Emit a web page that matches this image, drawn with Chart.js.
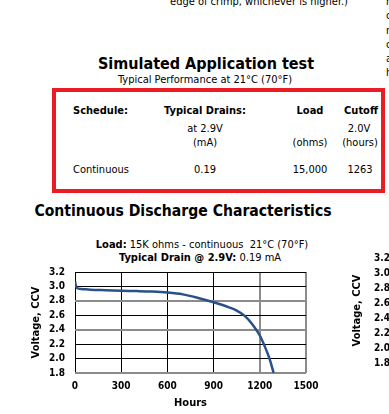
<!DOCTYPE html>
<html>
<head>
<meta charset="utf-8">
<script src="https://cdn.jsdelivr.net/npm/chart.js@4"></script>
<style>
html, body { margin: 0; padding: 0; background: #fff; }
#page { position: relative; width: 389px; height: 414px; overflow: hidden; background: #fff;
  font-family: "DejaVu Sans Condensed", "DejaVu Sans", sans-serif; color: #000; }
.t { position: absolute; white-space: nowrap; line-height: 1; transform: translate(-50%, -50%); }
.l { transform: translate(0, -50%); }
.s11 { font-size: 11px; }
.bold { font-weight: bold; }
#box { position: absolute; left: 52px; top: 88px; width: 325px; height: 97px; border: 4px solid #ec1c24; }
#side { position: absolute; left: 386px; top: -5px; font-size: 11px; line-height: 14.3px; }
canvas { position: absolute; top: 0; }
</style>
</head>
<body>
<div id="page">
  <div class="t s11" style="left:259px; top:1px;">edge of crimp, whichever is higher.)</div>
  <div id="side">r<br>c<br>n<br>c<br>a<br>h</div>

  <div class="t bold" style="left:206px; top:64px; font-size:16px;">Simulated Application test</div>
  <div class="t s11" style="left:205px; top:79px;">Typical Performance at 21°C (70°F)</div>

  <div id="box"></div>
  <div class="t l s11 bold" style="left:73px; top:110px;">Schedule:</div>
  <div class="t s11 bold" style="left:205px; top:110px;">Typical Drains:</div>
  <div class="t s11 bold" style="left:310px; top:110px;">Load</div>
  <div class="t s11 bold" style="left:361px; top:110px;">Cutoff</div>
  <div class="t s11" style="left:205px; top:128px;">at 2.9V</div>
  <div class="t s11" style="left:359px; top:128px;">2.0V</div>
  <div class="t s11" style="left:205px; top:142px;">(mA)</div>
  <div class="t s11" style="left:310px; top:142px;">(ohms)</div>
  <div class="t s11" style="left:360px; top:142px;">(hours)</div>
  <div class="t l s11" style="left:73px; top:169px;">Continuous</div>
  <div class="t s11" style="left:205px; top:169px;">0.19</div>
  <div class="t s11" style="left:310px; top:169px;">15,000</div>
  <div class="t s11" style="left:360px; top:169px;">1263</div>

  <div class="t bold" style="left:183px; top:212px; font-size:15.6px;">Continuous Discharge Characteristics</div>
  <div class="t s11" style="left:202px; top:244px;"><b>Load:</b> 15K ohms - continuous&nbsp; 21°C (70°F)</div>
  <div class="t s11" style="left:200px; top:257px;"><b>Typical Drain @ 2.9V:</b> 0.19 mA</div>

  <canvas id="main" width="389" height="414" style="left:0;"></canvas>
  <canvas id="next" width="200" height="414" style="left:330px;"></canvas>
</div>

<script>
// discharge curve
const hours = [0, 5, 15, 40, 100, 200, 300, 400, 500, 600, 700, 800, 900, 1000, 1050, 1100, 1150, 1200, 1230, 1263, 1290];
const volts = [3.07, 3.02, 2.975, 2.965, 2.955, 2.948, 2.94, 2.935, 2.928, 2.915, 2.89, 2.84, 2.78, 2.71, 2.665, 2.595, 2.48, 2.32, 2.18, 2.0, 1.8];

const xTicks = [0, 300, 600, 900, 1200, 1500];
const yTicks = [1.8, 2.0, 2.2, 2.4, 2.6, 2.8, 3.0, 3.2];

const FONT = 'DejaVu Sans Condensed';
const tickFont = { family: FONT, size: 10, weight: 'bold' };
const titleFont = { family: FONT, size: 11, weight: 'bold' };

// Excel-ish grid: some lines came out grey and thicker
const gridColor = (ctx, grey) => grey.includes(ctx.tick.value) ? '#8c8c8c' : '#000';
const gridWidth = (ctx, grey) => grey.includes(ctx.tick.value) ? 2 : 1;

function makeChart(id, pad, yWidth) {
  return new Chart(document.getElementById(id), {
    type: 'line',
    data: {
      datasets: [{
        data: hours.map((h, i) => ({ x: h, y: volts[i] })),
        borderColor: '#2a5187',
        borderWidth: 2.5,
        pointRadius: 0,
        cubicInterpolationMode: 'monotone',
        fill: false
      }]
    },
    options: {
      responsive: false,
      animation: false,
      events: [],
      layout: { padding: pad },
      plugins: { legend: { display: false }, tooltip: { enabled: false } },
      scales: {
        x: {
          type: 'linear', min: 0, max: 1500,
          afterBuildTicks: s => { s.ticks = xTicks.map(v => ({ value: v })); },
          afterFit: s => { s.height = 37; },
          ticks: { padding: 7, color: '#000', font: tickFont, maxRotation: 0, autoSkip: false, callback: v => String(v) },
          grid: { drawTicks: false, color: c => gridColor(c, [1200, 1500]), lineWidth: c => gridWidth(c, [1200, 1500]) },
          border: { display: false },
          title: { display: true, text: 'Hours', color: '#000', padding: 0, font: titleFont }
        },
        y: {
          min: 1.8, max: 3.2,
          afterBuildTicks: s => { s.ticks = yTicks.map(v => ({ value: v })); },
          afterFit: s => { s.width = yWidth; },
          ticks: { padding: 10, color: '#000', font: tickFont, autoSkip: false, callback: v => v.toFixed(1) },
          grid: { drawTicks: false, color: c => gridColor(c, [1.8, 2.4, 2.8]), lineWidth: c => gridWidth(c, [1.8, 2.4, 2.8]) },
          border: { display: false },
          title: { display: true, text: 'Voltage, CCV', color: '#000', padding: 0, font: titleFont }
        }
      }
    }
  });
}

makeChart('main', { left: 30, top: 272, right: 83, bottom: 4 }, 45);
// the next chart on the page, only its axis shows at the right edge
makeChart('next', { left: 21, top: 258, right: 0, bottom: 14 }, 49);
</script>
</body>
</html>
